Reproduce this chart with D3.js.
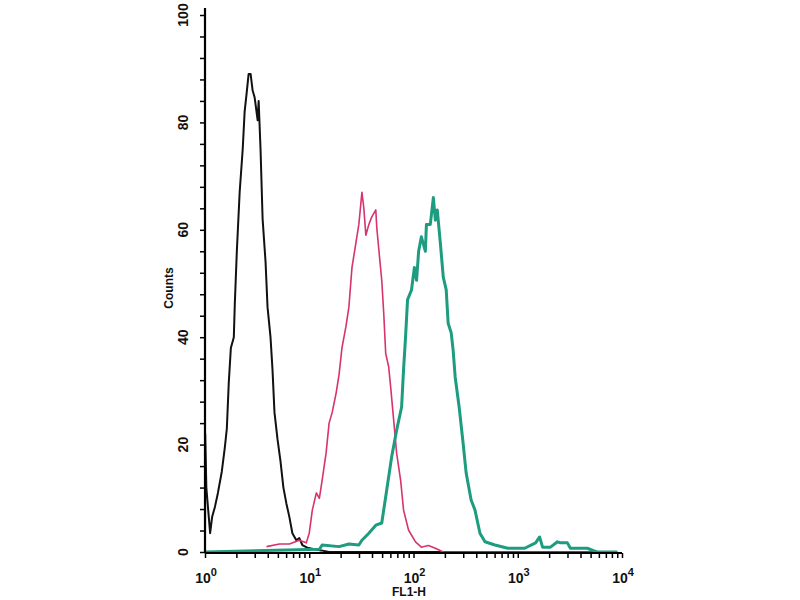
<!DOCTYPE html>
<html>
<head>
<meta charset="utf-8">
<script src="https://cdn.jsdelivr.net/npm/d3@7"></script>
<style>
  html, body { margin: 0; padding: 0; background: #fff; }
  svg { display: block; }
  text { font-family: "Liberation Sans", Arial, sans-serif; }
</style>
</head>
<body>
<svg id="chart" width="800" height="600"></svg>
<script>
// ---- Data (FL1-H intensity, counts) ----
const blackX = [1.00, 1.005, 1.03, 1.12, 1.17, 1.245, 1.33, 1.45, 1.55, 1.62, 1.69, 1.77, 1.89, 1.93, 2.02, 2.15, 2.30, 2.40, 2.51, 2.62, 2.74, 2.86, 2.99, 3.20, 3.27, 3.41, 3.57, 3.81, 3.98, 4.25, 4.44, 4.64, 4.96, 5.29, 5.65, 6.04, 6.45, 6.89, 7.52, 8.03, 8.58, 9.57, 11.2, 13.0, 15.5, 9000];
const blackY = [0, 22, 12, 3.5, 6.5, 8.4, 11, 15, 19.5, 23, 31.5, 38, 40, 46, 56, 67, 75, 82, 85.5, 89, 89, 86, 84.7, 80.4, 84, 75, 62, 54, 45.6, 40, 34, 26, 21, 17, 12, 9, 6.5, 3.5, 2.2, 2.6, 1.3, 0.8, 0.5, 0.3, 0, 0];

const pinkX = [3.89, 5.18, 6.45, 8.03, 9.36, 10.0, 10.7, 11.7, 12.5, 13.3, 14.5, 15.5, 16.6, 18.1, 19.3, 20.6, 22.5, 24.0, 25.7, 28.0, 29.9, 31.3, 32.0, 33.4, 34.9, 37.3, 39.8, 43.5, 44.4, 47.5, 49.6, 51.8, 54.1, 57.8, 60.4, 64.5, 68.9, 75.2, 80.3, 89.6, 104.5, 119, 139, 162, 193, 9000];
const pinkY = [1, 1.5, 1.5, 2.2, 1.7, 3.5, 7.8, 11, 10, 13.4, 18.4, 24, 26, 29.6, 33, 38, 42, 45.6, 53, 57.5, 61, 65, 67, 64, 59, 61, 62.4, 63.7, 60.5, 54.4, 50.6, 44.5, 37, 34.5, 30.7, 24.6, 18.4, 13.4, 7.8, 4.1, 1.9, 0.9, 1.2, 0.7, 0, 0];

const tealX = [1.00, 12.5, 13.3, 19.3, 24.0, 29.9, 32.0, 37.3, 43.5, 49.6, 55.3, 61.7, 68.9, 76.9, 80.3, 83.9, 87.7, 95.7, 102, 107, 112, 119, 130, 133, 145, 155, 162, 169, 181, 193, 206, 215, 230, 240, 251, 274, 299, 320, 357, 389, 434, 485, 604, 803, 1166, 1483, 1621, 1730, 2061, 2404, 2570, 2993, 3197, 4641, 5410, 5780, 9000];
const tealY = [0, 0.5, 1.3, 1.0, 1.5, 1.3, 2.2, 3.5, 5, 5.4, 11.5, 17.7, 22.7, 27, 34, 40, 47, 48.8, 53, 50.6, 56, 58.7, 56, 61, 61, 66, 61.8, 63.7, 57.5, 51.2, 48.8, 42.6, 40.8, 37.6, 32.6, 27, 20.3, 14.7, 9.7, 7.8, 3.5, 1.9, 1.3, 0.7, 0.7, 1.7, 2.8, 0.9, 0.9, 1.9, 1.7, 1.7, 0.7, 0.7, 0.2, 0, 0];

const yTickLabels = [0, 20, 40, 60, 80, 100];
const xDecades = [0, 1, 2, 3, 4];
const xTitle = "FL1-H";
const yTitle = "Counts";

// ---- Layout ----
const svg = d3.select("#chart");
const x = d3.scaleLog().domain([1, 10000]).range([205, 622]);
const y = d3.scaleLinear().domain([0, 100]).range([552, 15]);

const zip = (xs, ys) => xs.map((v, i) => [v, ys[i]]);
const line = d3.line().x(d => x(d[0])).y(d => y(d[1])).curve(d3.curveLinear);

// clip
svg.append("clipPath").attr("id", "clip").append("rect")
  .attr("x", 205).attr("y", 0).attr("width", 420).attr("height", 553);

const g = svg.append("g").attr("clip-path", "url(#clip)");
g.append("path").datum(zip(blackX, blackY)).attr("d", line)
  .attr("fill", "none").attr("stroke", "#111").attr("stroke-width", 2).attr("stroke-linejoin", "round");
g.append("path").datum(zip(pinkX, pinkY)).attr("d", line)
  .attr("fill", "none").attr("stroke", "#d6336f").attr("stroke-width", 1.6).attr("stroke-linejoin", "round");
g.append("path").datum(zip(tealX, tealY)).attr("d", line)
  .attr("fill", "none").attr("stroke", "#1d9c80").attr("stroke-width", 3).attr("stroke-linejoin", "round");

// ---- Y axis ----
const yAxis = d3.axisLeft(y).tickValues(d3.range(0, 101, 4)).tickSize(5).tickFormat("");
const gy = svg.append("g").attr("transform", "translate(205,0)").call(yAxis);
gy.select(".domain").attr("stroke", "#000").attr("stroke-width", 2.2).attr("d", "M0,8V553");
gy.selectAll(".tick line").attr("stroke", "#000").attr("stroke-width", 1.5);

svg.append("g").selectAll("text").data(yTickLabels).join("text")
  .attr("transform", d => `translate(188,${y(d)}) rotate(-90)`)
  .attr("text-anchor", "middle")
  .attr("font-size", 14).attr("font-weight", "bold").attr("fill", "#111")
  .text(d => d);

// ---- X axis ----
const minor = [];
for (let e = 0; e < 4; e++) for (let m = 1; m < 10; m++) minor.push(m * Math.pow(10, e));
minor.push(10000);
const xAxis = d3.axisBottom(x).tickValues(minor).tickSize(5).tickFormat("");
const gx = svg.append("g").attr("transform", "translate(0,553)").call(xAxis);
gx.select(".domain").attr("stroke", "#000").attr("stroke-width", 2.2).attr("d", "M205,0H622");
gx.selectAll(".tick line").attr("stroke", "#000").attr("stroke-width", 1.5);

const xl = svg.append("g").selectAll("text").data(xDecades).join("text")
  .attr("x", d => x(Math.pow(10, d)) + 1)
  .attr("y", 583)
  .attr("text-anchor", "middle")
  .attr("font-size", 14).attr("font-weight", "bold").attr("fill", "#111");
xl.append("tspan").text("10");
xl.append("tspan").attr("dy", -7).attr("font-size", 11).text(d => d);

// ---- Titles ----
svg.append("text").attr("x", 409).attr("y", 596).attr("text-anchor", "middle")
  .attr("font-size", 12).attr("font-weight", "bold").attr("fill", "#111").text(xTitle);
svg.append("text").attr("transform", "translate(173,288) rotate(-90)").attr("text-anchor", "middle")
  .attr("font-size", 12).attr("font-weight", "bold").attr("fill", "#111").text(yTitle);
</script>
</body>
</html>
